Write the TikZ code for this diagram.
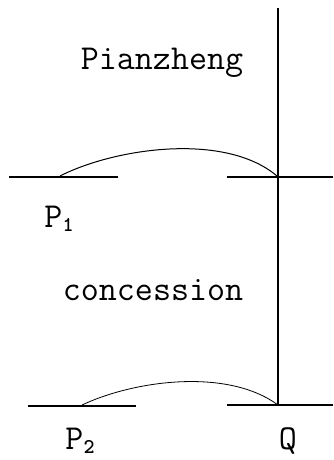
\documentclass[tikz,border=0pt]{standalone}
\usetikzlibrary{positioning}

\newcommand{\sub}[1]{\raisebox{-0.3ex}{\fontsize{21}{21}\selectfont\bfseries #1}}

\begin{document}
\begin{tikzpicture}
  [x=1pt, y=-1pt,
   label text/.style = {font=\fontsize{35}{36}\selectfont\ttfamily, inner sep=0pt},
   ground/.style = {line width=1.8pt},
   bow/.style = {line width=1pt}]
  \useasboundingbox (0,0) rectangle (333,460);
  % axis
  \coordinate (top) at (278,8);
  \coordinate (Q2) at (278,405);
  \draw[line width=1.4pt] (top) -- (Q2);
  % upper level
  \coordinate (a1) at (9,177);
  \coordinate (b1) at (118,177);
  \coordinate (c1) at (227,177);
  \coordinate (d1) at (333,177);
  \coordinate (P1) at (60,176);
  \coordinate (Q1) at (277,176);
  \draw[ground] (a1) -- (b1) (c1) -- (d1);
  \draw[bow] (P1) .. controls (115,148) and (225,132) .. (Q1);
  \node (pz) [label text] at (162,63) {Pianzheng};
  \node (p1) [label text] at (59,219) {P\sub{1}};
  % lower level
  \coordinate (a2) at (28,406);
  \coordinate (b2) at (136,406);
  \coordinate (c2) at (227,405);
  \coordinate (d2) at (333,405);
  \coordinate (P2) at (82,405);
  \draw[ground] (a2) -- (b2) (c2) -- (d2);
  \draw[bow, line width=0.8pt] (P2) .. controls (135,380) and (228,368) .. (Q2);
  \node (con) [label text] at (153,290) {concession};
  \node (p2) [label text] at (80,441) {P\sub{2}};
  \node (q) [label text] at (288,441) {Q};
\end{tikzpicture}
\end{document}
